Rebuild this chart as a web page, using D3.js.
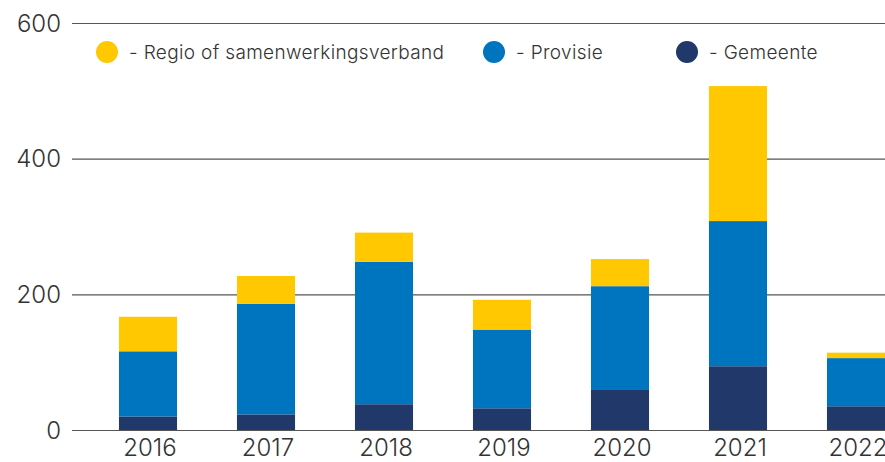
<!DOCTYPE html>
<html>
<head>
<meta charset="utf-8">
<script src="https://cdn.jsdelivr.net/npm/d3@7"></script>
<style>
  html, body { margin: 0; padding: 0; background: #fff; overflow: hidden; }
  svg { display: block; font-family: "Inter", "Lato", sans-serif; }
</style>
</head>
<body>
<svg id="chart" width="885" height="462"></svg>
<script>
const years = ["2016", "2017", "2018", "2019", "2020", "2021", "2022"];
const gemeente = [20, 23, 38, 32, 59, 94, 35];
const provisie = [96, 163, 210, 116, 153, 214, 71];
const regio = [51, 41, 43, 44, 40, 199, 8];
const yTicks = [0, 200, 400, 600];
const seriesKeys = ["gemeente", "provisie", "regio"];
const seriesLabels = ["- Regio of samenwerkingsverband", "- Provisie", "- Gemeente"];
const legendKeys = ["regio", "provisie", "gemeente"];
const colors = { gemeente: "#21386a", provisie: "#0075bf", regio: "#ffc800" };

const rows = years.map((y, i) => ({ year: y, gemeente: gemeente[i], provisie: provisie[i], regio: regio[i] }));
const stacked = d3.stack().keys(seriesKeys)(rows);

const svg = d3.select("#chart");
const x = d3.scaleBand().domain(years).range([89, 915]).paddingInner(0.508).paddingOuter(0.254);
const y = d3.scaleLinear().domain([0, 600]).range([430, 23]);

// gridlines
svg.append("g").selectAll("line").data(yTicks).join("line")
  .attr("x1", 72).attr("x2", 885)
  .attr("y1", d => y(d) + 0.5).attr("y2", d => y(d) + 0.5)
  .attr("stroke", "#555").attr("stroke-width", 1.2);

// y tick labels
svg.append("g").selectAll("text").data(yTicks).join("text")
  .attr("x", 61).attr("y", d => y(d)).attr("dy", "0.36em")
  .attr("text-anchor", "end").attr("fill", "#333")
  .attr("font-size", 24).attr("font-weight", 300)
  .text(d => d);

// bars
svg.append("g").selectAll("g").data(stacked).join("g")
  .attr("fill", d => colors[d.key])
  .selectAll("rect").data(d => d).join("rect")
  .attr("x", d => x(d.data.year))
  .attr("width", x.bandwidth())
  .attr("y", d => y(d[1]))
  .attr("height", d => y(d[0]) - y(d[1]));

// x labels
svg.append("g").selectAll("text").data(years).join("text")
  .attr("x", d => x(d) + x.bandwidth() / 2 + 2).attr("y", 456)
  .attr("text-anchor", "middle").attr("fill", "#333")
  .attr("font-size", 24).attr("font-weight", 300)
  .text(d => d);

// legend
const legendX = [107, 494, 687];
const lg = svg.append("g").selectAll("g").data(legendKeys).join("g")
  .attr("transform", (d, i) => `translate(${legendX[i]},52)`);
lg.append("circle").attr("r", 11).attr("fill", d => colors[d]);
lg.append("text").attr("x", 22).attr("dy", "0.35em")
  .attr("fill", "#333").attr("font-size", 19).attr("font-weight", 300)
  .attr("letter-spacing", 0.35)
  .text((d, i) => seriesLabels[i]);
</script>
</body>
</html>
